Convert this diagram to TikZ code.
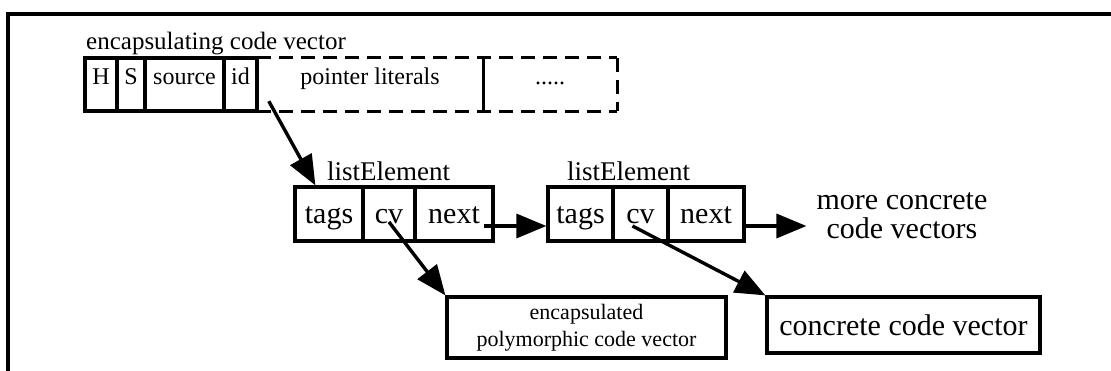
\documentclass[tikz,border=0pt]{standalone}
\usepackage{fontspec}
\setmainfont{Liberation Serif}
\usetikzlibrary{arrows.meta,calc}
\begin{document}
\begin{tikzpicture}[x=1pt,y=-1pt,
  cell/.style={draw, line width=3.2pt, inner sep=0pt, minimum height=53pt,
    font=\fontsize{24}{24}\selectfont, text height=14pt, text depth=14pt},
  opencell/.style={inner sep=0pt, minimum height=53pt,
    font=\fontsize{24}{24}\selectfont, text height=14pt, text depth=14pt},
  lcell/.style={draw, line width=3.2pt, inner sep=0pt, minimum height=54pt,
    font=\fontsize{30}{30}\selectfont, text height=20pt, text depth=0pt},
  label/.style={inner sep=0pt, anchor=base west, font=\fontsize{27}{27}\selectfont},
  dashline/.style={line width=3.2pt, dash pattern=on 14pt off 8pt},
  arr/.style={line width=3.4pt, -{Triangle[length=30pt,width=24pt]}},
  frame/.style={line width=3.4pt}
]
\useasboundingbox (0,0) rectangle (1111,371);
\fill[white] (0,0) rectangle (1111,371);
\draw[frame] (8,390) -- (8,14) -- (1130,14);

% encapsulating code vector
\node[label, font=\fontsize{25}{25}\selectfont] (title) at (86,50) {encapsulating code vector};
\node[cell, minimum width=32pt] (H) at (101,84.5) {H};
\node[cell, minimum width=28pt] (S) at (131,84.5) {S};
\node[cell, minimum width=79pt] (src) at (184.5,84.5) {source};
\node[cell, minimum width=33pt] (id) at (240.5,84.5) {id};
\node[opencell, minimum width=226pt] (pl) at (370,84.5) {pointer literals};
\node[opencell, minimum width=134pt] (dots) at (550,84.5) {.....};
\draw[dashline] (pl.north west) -- (dots.north east);
\draw[dashline] (pl.south west) -- (dots.south east);
\draw[line width=3.2pt] (pl.north east) -- (pl.south east);
\draw[dashline] (dots.north east) -- (dots.south east);

% list elements
\node[label] (le1) at (327,181) {listElement};
\node[lcell, minimum width=68pt] (tags1) at (329,214) {tags};
\node[lcell, minimum width=52pt] (cv1) at (389,214) {cv};
\node[lcell, minimum width=78pt] (next1) at (454,214) {next};

\node[label] (le2) at (567,181) {listElement};
\node[lcell, minimum width=65pt] (tags2) at (580.5,214) {tags};
\node[lcell, minimum width=55pt] (cv2) at (640.5,214) {cv};
\node[lcell, minimum width=76pt] (next2) at (706,214) {next};

\node[inner sep=0pt, align=center, font=\fontsize{30}{29}\selectfont] (more) at (902,216) {more concrete\\code vectors};

% targets
\node[draw, line width=3.2pt, inner sep=0pt, minimum width=279pt, minimum height=61pt,
  align=center, font=\fontsize{22}{27}\selectfont] (encap) at (586.5,327.5)
  {encapsulated\\polymorphic code vector};
\node[draw, line width=3.2pt, inner sep=0pt, minimum width=273pt, minimum height=56pt,
  font=\fontsize{30}{30}\selectfont] (conc) at (903.5,325) {concrete code vector};

% connectors
\draw[arr] ($(pl.south west)+(12,-10)$) -- ($(tags1.north west)+(22,0)$);
\draw[arr] ($(next1.east)+(-11,12)$) -- ($(tags2.west)+(0,12)$);
\draw[arr] ($(next2.east)+(0,12)$) -- ($(more.west |- next2.east)+(-10,12)$);
\draw[arr] ($(cv1.center)+(0,8)$) -- (encap.north west);
\draw[arr] ($(cv2.center)+(-8,12)$) -- (conc.north west);
\end{tikzpicture}
\end{document}
